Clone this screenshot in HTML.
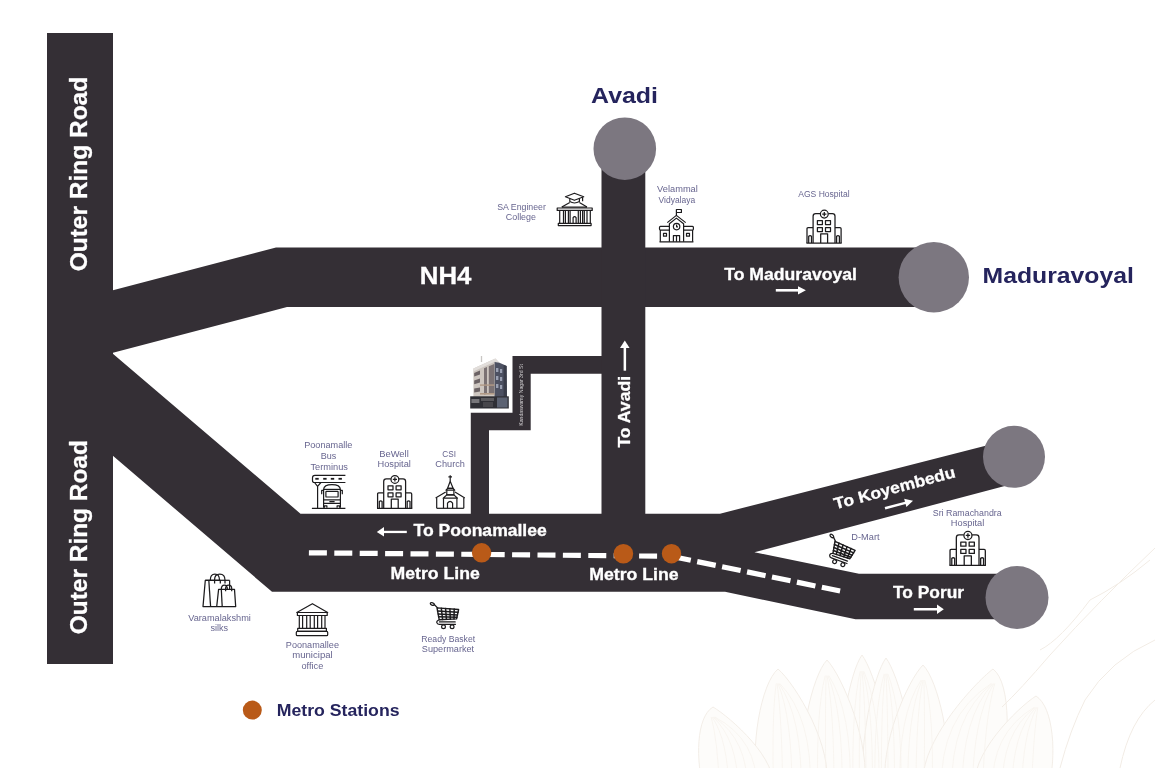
<!DOCTYPE html>
<html><head><meta charset="utf-8">
<style>
html,body{margin:0;padding:0;background:#fff;width:1155px;height:768px;overflow:hidden}
svg{display:block;will-change:transform}
text{font-family:"Liberation Sans",sans-serif}
.w{fill:#fff;font-weight:bold;stroke:#fff;stroke-width:0.3px}
.k{fill:#d4d2d4;font-weight:normal}
.n{fill:#25245d;font-weight:bold}
.p{fill:#67658f}
</style></head><body>
<svg width="1155" height="768" viewBox="0 0 1155 768">
<defs>
<symbol id="hosp" overflow="visible">
<g fill="none" stroke="#1c1b1d" stroke-width="1.25" stroke-linejoin="round">
<path d="M6.8 33.4 V6.6 Q6.8 4 9.4 4 H14 M22 4 H26.1 Q28.7 4 28.7 6.6 V33.4"/>
<circle cx="18" cy="4.5" r="3.9"/>
<path d="M18 2.4 V6.6 M15.9 4.5 H20.1"/>
<rect x="11.1" y="10.9" width="5" height="4"/>
<rect x="19.2" y="10.9" width="5" height="4"/>
<rect x="11.1" y="17.9" width="5" height="4"/>
<rect x="19.2" y="17.9" width="5" height="4"/>
<path d="M14.4 33.4 V24.2 H21.3 V33.4"/>
<path d="M6.8 18 H1.8 Q0.7 18 0.7 19.2 V33.4 M28.7 18 H33.7 Q34.8 18 34.8 19.2 V33.4"/>
<path d="M2.4 33.4 V26.6 Q3.8 25.4 5.2 26.6 V33.4 M30.3 33.4 V26.6 Q31.7 25.4 33.1 26.6 V33.4"/>
<path d="M0.1 33.4 H35.4"/>
</g>
</symbol>
<symbol id="college" overflow="visible">
<g fill="none" stroke="#1c1b1d" stroke-width="1.2" stroke-linejoin="round">
<path d="M13.4 8.8 L22.4 5.2 L31.7 8.8 L22.4 12.3 Z"/>
<path d="M17.8 10.4 V13.6 Q22.4 16.4 27.4 13.6 V10.4"/>
<path d="M30.6 9.2 V13.2"/>
<path d="M9.8 19.1 L17.8 14.5 M27.4 14.5 L35 19.1"/>
<path d="M9.8 19.1 H35"/>
<rect x="5.2" y="20" width="35" height="2.4"/>
<path d="M7.7 22.4 V35 M11.5 22.4 V35 M13.4 22.4 V35 M16.4 22.4 V35 M18.1 22.4 V35 M26.3 22.4 V35 M28.4 22.4 V35 M30.6 22.4 V35 M32.3 22.4 V35 M35 22.4 V35 M38.3 22.4 V35"/>
<path d="M21.1 35 V29.6 Q22.6 27.6 24.1 29.6 V35"/>
<rect x="6.3" y="35.4" width="32.8" height="2.2"/>
</g>
</symbol>
<symbol id="school" overflow="visible">
<g fill="none" stroke="#1c1b1d" stroke-width="1.2" stroke-linejoin="round">
<path d="M21.4 10.4 V4.5 H26.4 V7.5 H21.4"/>
<path d="M12.3 17.6 L21.4 10.4 L30.7 17.6"/>
<path d="M14.4 36.8 V18.7 L21.4 13.1 L28.6 18.7 V36.8"/>
<circle cx="21.6" cy="21.6" r="3.2"/>
<path d="M21.6 19.6 V21.8 H23"/>
<path d="M18.4 36.8 V30.7 H24.6 V36.8 M21.5 30.7 V36.8"/>
<path d="M14.4 21.4 H5.4 Q4.5 21.4 4.5 22.4 V24.1 Q4.5 25.1 5.4 25.1 H14.4 M5.3 25.1 V36.8"/>
<path d="M28.6 21.4 H37.5 Q38.4 21.4 38.4 22.4 V24.1 Q38.4 25.1 37.5 25.1 H28.6 M37.6 25.1 V36.8"/>
<rect x="8.5" y="28.3" width="3" height="2.9"/>
<rect x="31.5" y="28.3" width="3" height="2.9"/>
<path d="M4.5 36.8 H38.4"/>
</g>
</symbol>
<symbol id="bus" overflow="visible">
<g fill="none" stroke="#1c1b1d" stroke-width="1.2" stroke-linejoin="round">
<path d="M33.5 0.6 H3 Q0.6 0.6 0.6 3 V5.6 Q0.6 7.7 2.6 7.7 H33.5"/>
<path d="M2.6 7.7 L5.7 11.6 L9 7.7 M5.7 11.6 V33.4"/>
<path d="M11.7 33 V14.6 Q12 9.8 20.1 9.8 Q28.2 9.8 28.5 14.6 V33"/>
<path d="M12 14.6 H28.2"/>
<rect x="14" y="16.6" width="12.2" height="5.6" rx="0.6"/>
<path d="M11.7 25 H28.5 M11.7 28.6 H28.5 M17.5 26.8 H22.7"/>
<path d="M11.7 15.5 H9.8 V19.5 M28.5 15.5 H30.4 V19.5"/>
<path d="M12.5 33 V31 H15 V33 M25.2 33 V31 H27.7 V33"/>
<path d="M0 33.6 H33.5"/>
</g>
<g fill="#1c1b1d">
<rect x="3.4" y="3.1" width="3.4" height="1.8"/>
<rect x="11.3" y="3.1" width="3.4" height="1.8"/>
<rect x="18.9" y="3.1" width="3.4" height="1.8"/>
<rect x="26.6" y="3.1" width="3.4" height="1.8"/>
</g>
</symbol>
<symbol id="church" overflow="visible">
<g fill="none" stroke="#1c1b1d" stroke-width="1.2" stroke-linejoin="round">
<path d="M15.6 5.2 V11.2 M13.8 6.8 H17.4"/>
<path d="M15.6 11.2 L13 18.3 H18.5 Z"/>
<path d="M11.4 20.2 L13 18.3 H18.5 L20.1 20.2 Z"/>
<path d="M12.2 20.2 V24.9 H19.3 V20.2"/>
<path d="M8.6 28.2 L12.2 24.9 H19.3 L22.9 28.2 Z"/>
<path d="M1 27.9 L11.1 21.9 M20.4 21.9 L30.2 27.9"/>
<path d="M2.1 27.9 V38.3 M29.2 27.9 V38.3"/>
<path d="M8.9 28.2 V38.3 M22.3 28.2 V38.3"/>
<path d="M12.9 38.3 V33.2 Q15.5 29.6 18 33.2 V38.3"/>
<path d="M2.1 38.3 H29.2"/>
</g>
</symbol>
<symbol id="bags" overflow="visible">
<g fill="none" stroke="#1c1b1d" stroke-width="1.25" stroke-linejoin="round">
<path d="M25.3 18.4 V15.3 H10.3 L8 41.6 H40.7 L39.5 24.4 H23.6 L21.7 41.6"/>
<path d="M13.8 15.3 L15.6 41.6"/>
<path d="M34.6 15.3 V24.4"/>
<path d="M10.3 15.3 H34.6"/>
<path d="M15.3 15.3 Q15.3 9.2 19.9 9.2 Q24.5 9.2 24.5 15.3 M19.6 18.4 V14.6 Q19.6 9.2 24.8 9.2 Q30 9.2 30 15.3 V18.4"/>
<path d="M26.3 24.4 L27.2 41.6"/>
<path d="M26.3 24.4 Q26.3 20.2 29.4 20.2 Q32.4 20.2 32.4 24.4 M30.6 26.3 V23.6 Q30.6 20.2 33.6 20.2 Q36.7 20.2 36.7 23.6 V26.3"/>
</g>
</symbol>
<symbol id="muni" overflow="visible">
<g fill="none" stroke="#1c1b1d" stroke-width="1.2" stroke-linejoin="round">
<path d="M6.8 14.5 L22.4 5.7 L37.7 14.5 Z"/>
<rect x="7.4" y="14.5" width="29.8" height="3"/>
<path d="M9.3 17.5 V30.3 M12.6 17.5 V30.3 M16.7 17.5 V30.3 M20.2 17.5 V30.3 M24.3 17.5 V30.3 M27.6 17.5 V30.3 M31.7 17.5 V30.3 M35 17.5 V30.3"/>
<rect x="7.7" y="30.3" width="28.7" height="3.1"/>
<rect x="6.3" y="33.4" width="31.4" height="4.3" rx="1"/>
</g>
</symbol>
<symbol id="cart" overflow="visible">
<g fill="none" stroke="#1c1b1d" stroke-linejoin="round" stroke-linecap="round">
<path d="M4.2 2.2 L7.6 5.6" stroke-width="1.3"/>
<ellipse cx="2.3" cy="1.7" rx="2.1" ry="1.2" transform="rotate(20 2.3 1.7)" stroke-width="1.2"/>
<path d="M7 5.6 L28.6 7.2 L26.6 16.6 L9.2 17.4 Z" stroke-width="1.4"/>
<path d="M7.6 8.7 L28 10 M8.1 11.6 L27.4 12.6 M8.6 14.5 L26.9 15" stroke-width="1.5"/>
<path d="M11.3 5.9 L12.6 17.2 M15.6 6.2 L16.4 17 M19.9 6.5 L20.3 16.9 M24.2 6.8 L24 16.7" stroke-width="1.5"/>
<path d="M9.2 17.4 Q6.4 18.4 6.8 20.3 Q7.2 22 9.2 22 H25.5" stroke-width="1.2"/>
<path d="M9.4 19.6 H25.2" stroke-width="1.2"/>
<circle cx="13.5" cy="24.4" r="1.9" stroke-width="1.2"/>
<circle cx="22.1" cy="24.4" r="1.9" stroke-width="1.2"/>
</g>
</symbol>
</defs>

<g stroke="#f2ece5" stroke-width="0.9" fill="#fdfcfa">
<path d="M842,790 C836.0,742.8 850.0,671.2 862,655 C874.0,671.2 896.0,742.8 890,790 Z"/>
<path d="M864,790 C858.0,743.8 874.0,673.8 886,658 C898.0,673.8 918.0,743.8 912,790 Z"/>
<path d="M804,790 C796.5,744.5 812.0,675.6 827,660 C842.0,675.6 871.5,744.5 864,790 Z"/>
<path d="M886,790 C878.5,746.2 908.0,680.0 923,665 C938.0,680.0 953.5,746.2 946,790 Z"/>
<path d="M758,790 C749.5,747.6 761.0,683.5 778,669 C795.0,683.5 834.5,747.6 826,790 Z"/>
<path d="M924,790 C914.5,747.6 974.0,683.5 993,669 C1012.0,683.5 1009.5,747.6 1000,790 Z"/>
<path d="M704,790 C695.5,761.0 696.0,717.0 713,707 C730.0,717.0 780.5,761.0 772,790 Z"/>
<path d="M976,790 C967.0,757.1 1018.0,707.3 1036,696 C1054.0,707.3 1057.0,757.1 1048,790 Z"/>
<path fill="none" stroke="#f6f2ed" stroke-width="0.7" d="M853.0,790 Q851.6,709.0 860.2,671.2"/>
<path fill="none" stroke="#f6f2ed" stroke-width="0.7" d="M859.5,790 Q858.8,709.0 861.1,671.2"/>
<path fill="none" stroke="#f6f2ed" stroke-width="0.7" d="M866.0,790 Q866.0,709.0 862.0,671.2"/>
<path fill="none" stroke="#f6f2ed" stroke-width="0.7" d="M872.5,790 Q873.2,709.0 862.9,671.2"/>
<path fill="none" stroke="#f6f2ed" stroke-width="0.7" d="M879.0,790 Q880.4,709.0 863.8,671.2"/>
<path fill="none" stroke="#f6f2ed" stroke-width="0.7" d="M875.0,790 Q873.6,710.8 884.2,673.8"/>
<path fill="none" stroke="#f6f2ed" stroke-width="0.7" d="M881.5,790 Q880.8,710.8 885.1,673.8"/>
<path fill="none" stroke="#f6f2ed" stroke-width="0.7" d="M888.0,790 Q888.0,710.8 886.0,673.8"/>
<path fill="none" stroke="#f6f2ed" stroke-width="0.7" d="M894.5,790 Q895.2,710.8 886.9,673.8"/>
<path fill="none" stroke="#f6f2ed" stroke-width="0.7" d="M901.0,790 Q902.4,710.8 887.8,673.8"/>
<path fill="none" stroke="#f6f2ed" stroke-width="0.7" d="M817.8,790 Q816.0,712.0 825.2,675.6"/>
<path fill="none" stroke="#f6f2ed" stroke-width="0.7" d="M825.9,790 Q825.0,712.0 826.1,675.6"/>
<path fill="none" stroke="#f6f2ed" stroke-width="0.7" d="M834.0,790 Q834.0,712.0 827.0,675.6"/>
<path fill="none" stroke="#f6f2ed" stroke-width="0.7" d="M842.1,790 Q843.0,712.0 827.9,675.6"/>
<path fill="none" stroke="#f6f2ed" stroke-width="0.7" d="M850.2,790 Q852.0,712.0 828.8,675.6"/>
<path fill="none" stroke="#f6f2ed" stroke-width="0.7" d="M899.8,790 Q898.0,715.0 921.2,680.0"/>
<path fill="none" stroke="#f6f2ed" stroke-width="0.7" d="M907.9,790 Q907.0,715.0 922.1,680.0"/>
<path fill="none" stroke="#f6f2ed" stroke-width="0.7" d="M916.0,790 Q916.0,715.0 923.0,680.0"/>
<path fill="none" stroke="#f6f2ed" stroke-width="0.7" d="M924.1,790 Q925.0,715.0 923.9,680.0"/>
<path fill="none" stroke="#f6f2ed" stroke-width="0.7" d="M932.2,790 Q934.0,715.0 924.8,680.0"/>
<path fill="none" stroke="#f6f2ed" stroke-width="0.7" d="M773.6,790 Q771.6,717.4 776.2,683.5"/>
<path fill="none" stroke="#f6f2ed" stroke-width="0.7" d="M782.8,790 Q781.8,717.4 777.1,683.5"/>
<path fill="none" stroke="#f6f2ed" stroke-width="0.7" d="M792.0,790 Q792.0,717.4 778.0,683.5"/>
<path fill="none" stroke="#f6f2ed" stroke-width="0.7" d="M801.2,790 Q802.2,717.4 778.9,683.5"/>
<path fill="none" stroke="#f6f2ed" stroke-width="0.7" d="M810.4,790 Q812.4,717.4 779.8,683.5"/>
<path fill="none" stroke="#f6f2ed" stroke-width="0.7" d="M941.5,790 Q939.2,717.4 991.2,683.5"/>
<path fill="none" stroke="#f6f2ed" stroke-width="0.7" d="M951.7,790 Q950.6,717.4 992.1,683.5"/>
<path fill="none" stroke="#f6f2ed" stroke-width="0.7" d="M962.0,790 Q962.0,717.4 993.0,683.5"/>
<path fill="none" stroke="#f6f2ed" stroke-width="0.7" d="M972.3,790 Q973.4,717.4 993.9,683.5"/>
<path fill="none" stroke="#f6f2ed" stroke-width="0.7" d="M982.5,790 Q984.8,717.4 994.8,683.5"/>
<path fill="none" stroke="#f6f2ed" stroke-width="0.7" d="M719.6,790 Q717.6,740.2 711.2,717.0"/>
<path fill="none" stroke="#f6f2ed" stroke-width="0.7" d="M728.8,790 Q727.8,740.2 712.1,717.0"/>
<path fill="none" stroke="#f6f2ed" stroke-width="0.7" d="M738.0,790 Q738.0,740.2 713.0,717.0"/>
<path fill="none" stroke="#f6f2ed" stroke-width="0.7" d="M747.2,790 Q748.2,740.2 713.9,717.0"/>
<path fill="none" stroke="#f6f2ed" stroke-width="0.7" d="M756.4,790 Q758.4,740.2 714.8,717.0"/>
<path fill="none" stroke="#f6f2ed" stroke-width="0.7" d="M992.6,790 Q990.4,733.6 1034.2,707.3"/>
<path fill="none" stroke="#f6f2ed" stroke-width="0.7" d="M1002.3,790 Q1001.2,733.6 1035.1,707.3"/>
<path fill="none" stroke="#f6f2ed" stroke-width="0.7" d="M1012.0,790 Q1012.0,733.6 1036.0,707.3"/>
<path fill="none" stroke="#f6f2ed" stroke-width="0.7" d="M1021.7,790 Q1022.8,733.6 1036.9,707.3"/>
<path fill="none" stroke="#f6f2ed" stroke-width="0.7" d="M1031.4,790 Q1033.6,733.6 1037.8,707.3"/>
</g>
<g fill="none" stroke="#f2ece5" stroke-width="1">
<path d="M1155 548 Q1100 600 1050 655 Q1020 690 1002 707"/>
<path d="M1150 560 Q1120 585 1090 600 Q1060 640 1040 650"/>
<path d="M1155 640 Q1110 660 1085 700 Q1070 730 1060 768"/>
<path d="M1155 700 Q1130 720 1120 768"/>
</g>
<!-- ROADS -->
<g fill="#342f35">
<rect x="47" y="33" width="66" height="631"/>
<polygon points="112,290.5 276,247.5 920,247.5 920,307 287,307 112,353"/>
<polygon points="112,353 300.5,513.7 720,513.7 1008,440 1020,482 754.4,552.2 859,573.8 1017,573.8 1017,619.2 855.5,619.2 725,591.8 272,591.8 112,455"/>
<polygon points="470.8,514 470.8,412.8 512.5,412.8 512.5,356 602,356 602,373.8 530.7,373.8 530.7,430.3 489,430.3 489,514"/>
<rect x="601.5" y="150" width="43.8" height="365"/>
</g>
<!-- CIRCLES -->
<g fill="#7c7780">
<circle cx="624.8" cy="148.7" r="31.3"/>
<circle cx="933.8" cy="277.3" r="35.2"/>
<circle cx="1014" cy="456.8" r="31"/>
<circle cx="1017" cy="597.5" r="31.5"/>
</g>
<!-- METRO -->
<g fill="none" stroke="#fff" stroke-width="5.2"><path d="M308.9 552.8 L671.5 556.3" stroke-dasharray="18 7.4"/><path d="M672.27 556.46 L840.1 591.03" stroke-dasharray="18.9 6.55"/></g>
<g fill="#b95a18">
<circle cx="481.6" cy="552.8" r="9.7"/>
<circle cx="623.4" cy="553.7" r="9.8"/>
<circle cx="671.5" cy="553.7" r="9.7"/>
<circle cx="252.3" cy="710.1" r="9.5"/>
</g>

<g>
<path d="M481.5 356 V362" stroke="#c9c6c4" stroke-width="1.3"/>
<polygon points="473.4,368.6 495.4,358.6 499.4,362.8 499.4,397 473.4,397" fill="#cdc6c0"/>
<polygon points="473.4,368.6 495.4,358.6 499.4,362.8 497,364 495.2,361.6 473.4,371.4" fill="#e2dedb"/>
<polygon points="494.6,362 499.4,362.8 505.2,365.2 506.6,366 506.6,397 494.6,397" fill="#4d5162"/>
<polygon points="503.6,365 506.6,366 507,397 503.6,397" fill="#3a3d4a"/>
<g fill="#6b6264">
<polygon points="474.2,373 480,370.6 480,374.4 474.2,376.6"/>
<polygon points="474.2,380.4 480,378.6 480,382.6 474.2,384.2"/>
<polygon points="474.2,388.6 480,387.4 480,391.4 474.2,392.6"/>
</g>
<g fill="#7b7274">
<polygon points="484,368.2 487,367 487,394 484,394.4"/>
<polygon points="488.8,366.2 494.2,364 494.2,393.6 488.8,394"/>
</g>
<g fill="#b19a86">
<rect x="480" y="384.4" width="14.4" height="1.4"/>
<rect x="480" y="393" width="14.4" height="1.6"/>
</g>
<g fill="#9aa0b2">
<rect x="496" y="368" width="2.4" height="4"/>
<rect x="496" y="376" width="2.4" height="4"/>
<rect x="496" y="384" width="2.4" height="4"/>
<rect x="500" y="369" width="2.2" height="4"/>
<rect x="500" y="377" width="2.2" height="4"/>
<rect x="500" y="385" width="2.2" height="4"/>
</g>
<rect x="470.2" y="396.3" width="38.6" height="12.2" fill="#2f2f35"/>
<rect x="471.4" y="399" width="8" height="4" fill="#77767a"/>
<rect x="481" y="398" width="13" height="3" fill="#5a595d"/>
<rect x="483" y="402" width="10" height="5" fill="#47464b"/>
<rect x="497" y="397.5" width="10.5" height="10" fill="#5c6272"/>
</g>

<text class="n" font-size="22.32" transform="translate(591.05,102.90) scale(1.118,1)">Avadi</text>
<text class="n" font-size="21.74" transform="translate(982.57,282.60) scale(1.139,1)">Maduravoyal</text>
<text class="n" font-size="15.80" transform="translate(276.66,715.80) scale(1.121,1)">Metro Stations</text>
<text class="w" font-size="23.33" transform="translate(419.79,283.60) scale(1.106,1)">NH4</text>
<text class="w" font-size="15.65" transform="translate(724.22,280.30) scale(1.126,1)">To Maduravoyal</text>
<text class="w" font-size="16.23" transform="translate(413.52,536.20) scale(1.082,1)">To Poonamallee</text>
<text class="w" font-size="15.65" transform="translate(390.56,578.60) scale(1.128,1)">Metro Line</text>
<text class="w" font-size="15.65" transform="translate(589.16,579.50) scale(1.132,1)">Metro Line</text>
<text class="w" font-size="16.09" transform="translate(893.03,597.50) scale(1.080,1)">To Porur</text>
<text class="p" font-size="8.30" transform="translate(497.16,209.50) scale(1.058,1)">SA Engineer</text>
<text class="p" font-size="8.30" transform="translate(505.75,220.00) scale(1.077,1)">College</text>
<text class="p" font-size="8.30" transform="translate(657.11,191.80) scale(1.118,1)">Velammal</text>
<text class="p" font-size="8.30" transform="translate(658.51,202.50) scale(1.026,1)">Vidyalaya</text>
<text class="p" font-size="8.30" transform="translate(798.20,197.10) scale(1.032,1)">AGS Hospital</text>
<text class="p" font-size="8.30" transform="translate(304.17,447.90) scale(1.102,1)">Poonamalle</text>
<text class="p" font-size="8.30" transform="translate(320.78,458.90) scale(1.085,1)">Bus</text>
<text class="p" font-size="8.30" transform="translate(310.51,469.60) scale(1.114,1)">Terminus</text>
<text class="p" font-size="8.30" transform="translate(379.25,456.70) scale(1.129,1)">BeWell</text>
<text class="p" font-size="8.30" transform="translate(377.46,467.30) scale(1.115,1)">Hospital</text>
<text class="p" font-size="8.30" transform="translate(442.29,456.70) scale(0.992,1)">CSI</text>
<text class="p" font-size="8.30" transform="translate(435.34,467.30) scale(1.108,1)">Church</text>
<text class="p" font-size="8.30" transform="translate(188.21,620.50) scale(1.110,1)">Varamalakshmi</text>
<text class="p" font-size="8.30" transform="translate(210.43,630.90) scale(1.096,1)">silks</text>
<text class="p" font-size="8.30" transform="translate(285.87,647.80) scale(1.097,1)">Poonamallee</text>
<text class="p" font-size="8.30" transform="translate(292.23,657.90) scale(1.155,1)">municipal</text>
<text class="p" font-size="8.30" transform="translate(301.53,668.70) scale(1.105,1)">office</text>
<text class="p" font-size="8.30" transform="translate(421.31,642.00) scale(1.044,1)">Ready Basket</text>
<text class="p" font-size="8.30" transform="translate(421.84,652.40) scale(1.103,1)">Supermarket</text>
<text class="p" font-size="8.30" transform="translate(851.36,540.00) scale(1.112,1)">D-Mart</text>
<text class="p" font-size="8.30" transform="translate(932.76,516.00) scale(1.069,1)">Sri Ramachandra</text>
<text class="p" font-size="8.30" transform="translate(950.86,526.30) scale(1.115,1)">Hospital</text>
<text class="w" font-size="23.30" transform="translate(87.20,271.28) rotate(-90) scale(1.051,1)">Outer Ring Road</text>
<text class="w" font-size="23.30" transform="translate(87.20,634.18) rotate(-90) scale(1.049,1)">Outer Ring Road</text>
<text class="w" font-size="16.50" transform="translate(629.70,447.58) rotate(-90) scale(1.066,1)">To Avadi</text>
<text class="w" font-size="16.00" transform="translate(835.58,509.35) rotate(-15) scale(1.092,1)">To Koyembedu</text>
<text class="k" font-size="4.60" transform="translate(522.60,425.71) rotate(-90) scale(1.125,1)">Kandaswamy Nagar 3rd St</text>
<!-- ARROWS -->
<g fill="#fff">
<rect x="775.8" y="289" width="24" height="2.6"/><path d="M798 286.2 L805.9 290.3 L798 294.6 Z"/>
<rect x="383" y="530.8" width="23.8" height="2.3"/><path d="M376.8 531.9 L384 527.1 L384 536.6 Z"/>
<rect x="913.8" y="608" width="24" height="2.5"/><path d="M937 604.5 L943.8 609.2 L937 613.9 Z"/>
<rect x="623.6" y="347" width="2.5" height="23.7"/><path d="M624.8 340.6 L620 348 L629.6 348 Z"/>
<g transform="translate(885,508.3) rotate(-15)"><rect x="0" y="-1.25" width="23" height="2.5"/><path d="M21 -4.3 L29 0 L21 4.3 Z"/></g>
</g>

<use href="#hosp" x="806.3" y="209.6"/>
<use href="#hosp" x="376.9" y="474.9"/>
<use href="#hosp" transform="translate(949.3,530.8) scale(1.035)"/>
<use href="#college" x="552" y="188"/>
<use href="#school" x="655" y="205"/>
<use href="#bus" x="311.9" y="474.8"/>
<use href="#church" x="434.6" y="470"/>
<use href="#bags" x="195" y="565"/>
<use href="#muni" x="290" y="598"/>
<use href="#cart" x="430" y="602.3"/>
<use href="#cart" transform="translate(839.6,551.3) rotate(20) scale(1.02) translate(-14.6,-13.2)"/>

</svg>
</body></html>
